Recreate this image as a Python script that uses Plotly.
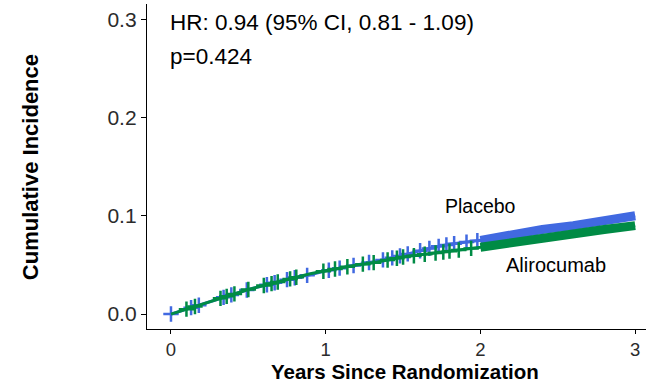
import plotly.graph_objects as go

# ---- data ----
years = [0.0, 0.1, 0.2, 0.3, 0.4, 0.5, 0.6, 0.7, 0.8, 0.9, 1.0, 1.1, 1.2, 1.3,
         1.4, 1.5, 1.6, 1.7, 1.8, 1.9, 2.0, 2.2, 2.4, 2.6, 2.8, 3.0]
placebo_ci = [0.000, 0.005, 0.010, 0.015, 0.020, 0.025, 0.029, 0.033, 0.037,
              0.040, 0.044, 0.047, 0.050, 0.053, 0.056, 0.060, 0.064, 0.068,
              0.071, 0.073, 0.075, 0.081, 0.086, 0.090, 0.095, 0.100]
alirocumab_ci = [0.000, 0.005, 0.010, 0.015, 0.020, 0.025, 0.029, 0.033, 0.037,
                 0.041, 0.044, 0.047, 0.050, 0.052, 0.055, 0.058, 0.060, 0.062,
                 0.064, 0.066, 0.068, 0.073, 0.078, 0.082, 0.086, 0.090]
placebo_censor = [0.0, 0.13, 0.18, 0.34, 0.39, 0.49, 0.62, 0.67, 0.75, 0.80,
                  0.88, 1.02, 1.09, 1.18, 1.28, 1.37, 1.43, 1.48, 1.53, 1.61,
                  1.67, 1.73, 1.78, 1.83, 1.91, 1.98]
alirocumab_censor = [0.10, 0.155, 0.32, 0.36, 0.41, 0.50, 0.60, 0.65, 0.69,
                     0.77, 0.81, 0.985, 1.06, 1.14, 1.24, 1.31, 1.40, 1.46,
                     1.50, 1.57, 1.64, 1.71, 1.76, 1.80, 1.86, 1.94]
dense_start = 2.0  # censoring becomes continuous after this time

colors = {"Placebo": "#4169E1", "Alirocumab": "#008B45"}
series = {"Placebo": placebo_ci, "Alirocumab": alirocumab_ci}
censors = {"Placebo": placebo_censor, "Alirocumab": alirocumab_censor}

hr_text = "HR: 0.94 (95% CI, 0.81 - 1.09)"
p_text = "p=0.424"
x_ticks = [0, 1, 2, 3]
y_ticks = [0.0, 0.1, 0.2, 0.3]
y_tick_labels = ["0.0", "0.1", "0.2", "0.3"]


def value_at(t, xs, ys):
    for i in range(len(xs) - 1):
        if xs[i] <= t <= xs[i + 1]:
            f = (t - xs[i]) / (xs[i + 1] - xs[i])
            return ys[i] + f * (ys[i + 1] - ys[i])
    return ys[-1] if t >= xs[-1] else ys[0]


fig = go.Figure()
for order in ["Placebo", "Alirocumab"]:
    ys = series[order]
    c = colors[order]
    fig.add_trace(go.Scatter(x=years, y=ys, mode="lines",
                             line=dict(color=c, width=3), showlegend=False,
                             hoverinfo="skip"))
    # dense censor band
    dx = [t for t in years if t >= dense_start]
    dy = [ys[years.index(t)] for t in dx]
    fig.add_trace(go.Scatter(x=dx, y=dy, mode="lines",
                             line=dict(color=c, width=9), showlegend=False,
                             hoverinfo="skip"))
    cx = censors[order]
    cy = [value_at(t, years, ys) for t in cx]
    fig.add_trace(go.Scatter(x=cx, y=cy, mode="markers",
                             marker=dict(symbol="cross-thin", size=11,
                                         line=dict(color=c, width=2.5)),
                             showlegend=False, hoverinfo="skip"))

font_family = "Liberation Sans, Arial, sans-serif"
fig.update_layout(
    width=646, height=383,
    margin=dict(l=147, r=0, t=4, b=54),
    paper_bgcolor="white", plot_bgcolor="white",
    font=dict(family=font_family, color="black"),
    xaxis=dict(range=[-0.155, 3.07], tickvals=x_ticks, showgrid=False,
               zeroline=False, showline=True, linecolor="black", linewidth=1.3,
               ticks="outside", ticklen=4, tickcolor="black", tickwidth=1.3,
               tickfont=dict(size=18.5, color="#2b2b2b")),
    yaxis=dict(range=[-0.0152, 0.3155], tickvals=y_ticks,
               ticktext=y_tick_labels, showgrid=False, zeroline=False,
               showline=True, linecolor="black", linewidth=1.3,
               ticks="outside", ticklen=5, tickcolor="black", tickwidth=1.3,
               tickfont=dict(size=21, color="#2b2b2b")),
    annotations=[
        dict(text=hr_text, x=0, y=0.297, xref="x", yref="y", xanchor="left",
             yanchor="middle", xshift=-3, showarrow=False,
             font=dict(size=22.5)),
        dict(text=p_text, x=0, y=0.262, xref="x", yref="y", xanchor="left",
             yanchor="middle", xshift=-3, showarrow=False,
             font=dict(size=22.5)),
        dict(text="Placebo", x=2.0, y=0.1095, xref="x", yref="y",
             xanchor="center", yanchor="middle", showarrow=False,
             font=dict(size=19.5)),
        dict(text="Alirocumab", x=2.49, y=0.0497, xref="x", yref="y",
             xanchor="center", yanchor="middle", showarrow=False,
             font=dict(size=20)),
        dict(text="<b>Cumulative Incidence</b>", x=0, y=0.498, xref="paper",
             yref="paper", xshift=-117, textangle=-90, xanchor="center",
             yanchor="middle", showarrow=False, font=dict(size=22)),
        dict(text="<b>Years Since Randomization</b>", x=0.517, y=0,
             xref="paper", yref="paper", yshift=-42, xanchor="center",
             yanchor="middle", showarrow=False, font=dict(size=20.5)),
    ],
)

fig.write_html("out.html")
